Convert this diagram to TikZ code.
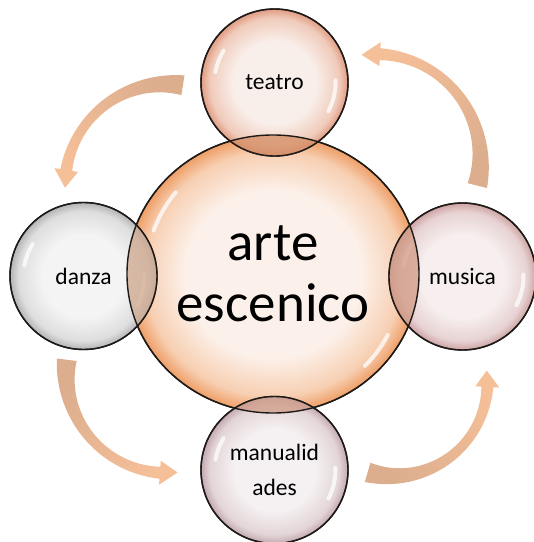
\documentclass[tikz,border=0pt]{standalone}
\usepackage{fontspec}
\setmainfont{Carlito}
\usetikzlibrary{shapes.geometric}

\definecolor{edgeblack}{HTML}{1E1A18}
\definecolor{flowTail}{HTML}{DCAE8E}
\definecolor{flowHead}{HTML}{F5BF98}

\definecolor{arteIn}{HTML}{FCF1EA}
\definecolor{arteMid}{HTML}{F7CFB2}
\definecolor{arteRim}{HTML}{EE9E66}
\definecolor{teatroIn}{HTML}{F9EFEA}
\definecolor{teatroMid}{HTML}{F0CBBB}
\definecolor{teatroRim}{HTML}{E09C82}
\definecolor{danzaIn}{HTML}{F4F4F4}
\definecolor{danzaMid}{HTML}{DEDEDE}
\definecolor{danzaRim}{HTML}{B4B4B4}
\definecolor{musicaIn}{HTML}{F7EFEF}
\definecolor{musicaMid}{HTML}{E7D2D2}
\definecolor{musicaRim}{HTML}{CDA3A3}
\definecolor{manualIn}{HTML}{F5F0F1}
\definecolor{manualMid}{HTML}{E3D5D8}
\definecolor{manualRim}{HTML}{C3A9AF}

\definecolor{teatroLens}{HTML}{D48C63}
\definecolor{danzaLens}{HTML}{CFA88E}
\definecolor{musicaLens}{HTML}{D19A83}
\definecolor{manualLens}{HTML}{D09C88}

\pgfdeclareradialshading{arteshade}{\pgfpoint{0bp}{0bp}}{color(0bp)=(arteIn); color(15bp)=(arteIn); color(22bp)=(arteMid); color(25bp)=(arteRim); color(50bp)=(arteRim)}
\pgfdeclareradialshading{teatroshade}{\pgfpoint{0bp}{0bp}}{color(0bp)=(teatroIn); color(14bp)=(teatroIn); color(22bp)=(teatroMid); color(25bp)=(teatroRim); color(50bp)=(teatroRim)}
\pgfdeclareradialshading{danzashade}{\pgfpoint{0bp}{0bp}}{color(0bp)=(danzaIn); color(14bp)=(danzaIn); color(22bp)=(danzaMid); color(25bp)=(danzaRim); color(50bp)=(danzaRim)}
\pgfdeclareradialshading{musicashade}{\pgfpoint{0bp}{0bp}}{color(0bp)=(musicaIn); color(14bp)=(musicaIn); color(22bp)=(musicaMid); color(25bp)=(musicaRim); color(50bp)=(musicaRim)}
\pgfdeclareradialshading{manualshade}{\pgfpoint{0bp}{0bp}}{color(0bp)=(manualIn); color(14bp)=(manualIn); color(22bp)=(manualMid); color(25bp)=(manualRim); color(50bp)=(manualRim)}

\tikzset{
  bubble/.style={circle, minimum size=147pt, inner sep=0pt, draw=edgeblack, line width=1.4pt,
    shade, shading=#1shade, align=center, font=\fontsize{23.5}{35}\selectfont},
  edge/.style={draw=edgeblack, line width=1.4pt},
  gloss/.style={white, line width=4pt, line cap=round, opacity=0.75},
  flow/.style={top color=flowHead, bottom color=flowTail},
}

\begin{document}
\begin{tikzpicture}[x=1pt,y=1pt]
 \useasboundingbox (0,0) rectangle (534,542);

 \foreach \cx/\cy/\rad/\sa/\ea/\m in {167/356/102/81/181/131, 374.5/382/106/-14/97/41, 393.5/160/94/-106/7/310, 167/170/101/173/276/224}
  \shade[flow, shading angle=\m, shift={(\cx,\cy)}]
    plot[domain=0:1, samples=30] ({\sa+(\ea-\sa-10)*\x}:{\rad+(10-15*\x+11*\x*\x)})
    -- ({\ea-10}:{\rad+12}) -- (\ea:\rad) -- ({\ea-10}:{\rad-12})
    -- plot[domain=1:0, samples=30] ({\sa+(\ea-\sa-10)*\x}:{\rad-(10-15*\x+11*\x*\x)}) -- cycle;

 \node[ellipse, minimum width=292pt, minimum height=278pt, inner sep=0pt, draw=edgeblack, line width=1.4pt,
   shade, shading=arteshade, align=center, font=\fontsize{55}{61}\selectfont] (arte) at (273,268) {arte\\escenico};
 \node[bubble=teatro] (teatro) at (274.5,459.5) {teatro};
 \node[bubble=danza] (danza) at (83.5,266) {danza};
 \node[bubble=musica] (musica) at (462.5,265.5) {musica};
 \node[bubble=manual] (manual) at (274.5,72) {manualid\\ades};

 \draw[gloss] ([shift={(arte.center)}]140:127) arc[start angle=140, end angle=160, radius=127];
 \draw[gloss] ([shift={(arte.center)}]-45:130) arc[start angle=-45, end angle=-28, radius=130];
 \foreach \n in {teatro,danza,musica,manual}{
  \draw[gloss] ([shift={(\n.center)}]148:60) arc[start angle=148, end angle=170, radius=60];
  \draw[gloss] ([shift={(\n.center)}]-28:61) arc[start angle=-28, end angle=2, radius=61];
 }

 \foreach \n in {teatro,danza,musica,manual}{
  \begin{scope}
   \clip (arte.center) ellipse[x radius=146, y radius=139];
   \fill[\n Lens, fill opacity=0.75] (\n.center) circle[radius=73.5];
  \end{scope}
 }

 \draw[edge] (arte.center) ellipse[x radius=146, y radius=139];
 \foreach \n in {teatro,danza,musica,manual}
  \draw[edge] (\n.center) circle[radius=73.5];
\end{tikzpicture}
\end{document}
